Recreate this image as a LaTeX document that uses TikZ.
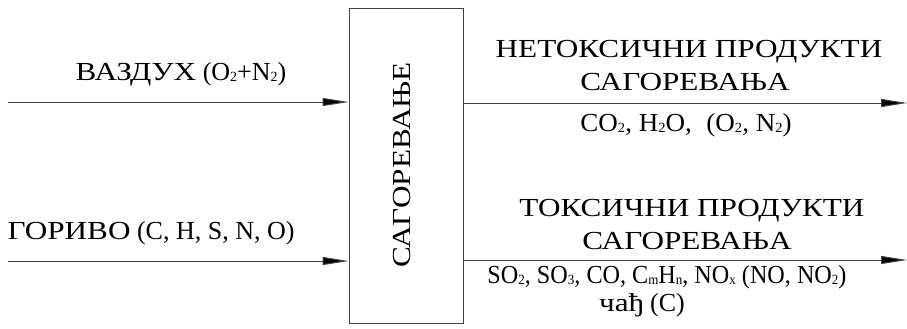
\documentclass[tikz,border=0pt]{standalone}
\usepackage{fontspec}
\setmainfont{Liberation Serif}
\newfontfamily\cyr[FakeStretch=1.2]{Liberation Serif}
\usetikzlibrary{arrows.meta}
\newcommand{\sbs}[1]{\raisebox{-1.5pt}{\fontsize{14}{14}\selectfont #1}}
\begin{document}
\begin{tikzpicture}[x=1pt,y=-1pt,
  arr/.style={line width=1pt,draw=black!75,-{Triangle[length=26pt,width=8pt,fill=black]}},
  lbl/.style={inner sep=0pt,font=\fontsize{26}{30}\selectfont,anchor=center},
  boxst/.style={draw=black!75,line width=1pt,minimum width=114pt,minimum height=314pt,inner sep=0pt}]
\useasboundingbox (0,0) rectangle (907,329);
\node[boxst] (box) at (406,166) {};
\node[lbl,rotate=90] (boxt) at (402,165) {\cyr САГОРЕВАЊЕ};
% inputs
\coordinate (a1) at (8,102);
\coordinate (a2) at (8,261);
\draw[arr] (a1) -- (a1 -| box.west);
\draw[arr] (a2) -- (a2 -| box.west);
\node[lbl] (t1) at (181,74) {{\cyr ВАЗДУХ} (O\sbs{2}+N\sbs{2})};
\node[lbl] (t2) at (151,233) {{\cyr ГОРИВО} (C, H, S, N, O)};
% outputs
\coordinate (e1) at (907,103);
\coordinate (e2) at (907,260);
\draw[arr] (e1 -| box.east) -- (e1);
\draw[arr] (e2 -| box.east) -- (e2);
\node[lbl] (r1) at (689,52) {\cyr НЕТОКСИЧНИ ПРОДУКТИ};
\node[lbl] (r2) at (685,82) {\cyr САГОРЕВАЊА};
\node[lbl] (r3) at (686,125) {\scalebox{1.04}[1]{CO\sbs{2}, H\sbs{2}O,\hspace{14pt}(O\sbs{2}, N\sbs{2})}};
\node[lbl] (r4) at (692,211) {\cyr ТОКСИЧНИ ПРОДУКТИ};
\node[lbl] (r5) at (687,241) {\cyr САГОРЕВАЊА};
\node[lbl] (r6) at (667,277) {\scalebox{0.93}[1]{SO\sbs{2}, SO\sbs{3}, CO, C\sbs{m}H\sbs{n}, NO\sbs{x} (NO, NO\sbs{2})}};
\node[lbl] (r7) at (642,305) {{\cyr чађ} (C)};
\end{tikzpicture}
\end{document}
